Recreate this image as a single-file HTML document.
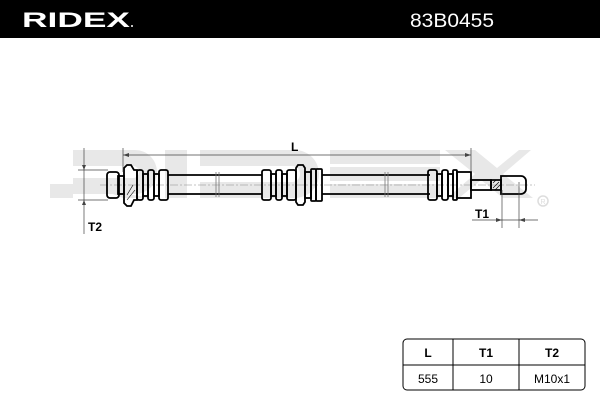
<!DOCTYPE html>
<html><head><style>
body{margin:0;width:600px;height:400px;background:#fff;overflow:hidden;font-family:"Liberation Sans",sans-serif}
</style></head><body>
<svg width="600" height="400" viewBox="0 0 600 400" xmlns="http://www.w3.org/2000/svg">
<rect x="0" y="0" width="600" height="38" fill="#000"/>
<text x="22" y="27" fill="#fff" font-size="21" font-weight="bold" font-family="Liberation Sans" textLength="108" lengthAdjust="spacingAndGlyphs">RIDEX</text>
<circle cx="132" cy="26" r="1" fill="#fff"/>
<text x="410" y="27" fill="#fff" font-size="19" font-family="Liberation Sans" textLength="84" lengthAdjust="spacingAndGlyphs">83B0455</text>
<g fill="#e8e8e8">
<path d="M50 150h85a22 22 0 0 1 0 44h-8l26 4h-30l-10-4h-40v-16h60a6 6 0 0 0 0-12h-60v-16z"/>
<path d="M50 198v-14h23v14z"/>
<rect x="165" y="150" width="22" height="48"/>
<path d="M200 150h95a24 24 0 0 1 0 48h-95v-16h92a8 8 0 0 0 0-16h-92z"/>
<rect x="330" y="150" width="110" height="14"/>
<rect x="330" y="167" width="110" height="14"/>
<rect x="330" y="184" width="110" height="14"/>
<path d="M445 150h30l22 18 22-18h12l-28 24 30 24h-30l-22-18-22 18h-12l28-24z"/>
</g>
<circle cx="543" cy="201" r="5" fill="none" stroke="#ddd" stroke-width="1.5"/>
<text x="540.5" y="204" font-size="7" fill="#ddd">R</text>
<line x1="100" y1="185" x2="535" y2="185" stroke="#888" stroke-width="0.6" stroke-dasharray="8 2 2 2"/>
<g stroke="#000" stroke-width="1.8" fill="none">
<line x1="168" y1="175" x2="262" y2="175"/><line x1="168" y1="194" x2="262" y2="194"/>
<line x1="322" y1="175" x2="430" y2="175"/><line x1="322" y1="194" x2="430" y2="194"/>
<rect x="107" y="172" width="12" height="26" rx="3"/>
<rect x="118" y="176" width="6" height="18"/>
<path d="M124 168l3-3h4l3 5h3v30h-3l-3 6h-4l-3-3z"/>
<rect x="137" y="170" width="6" height="30" rx="2"/>
<rect x="143" y="174" width="5" height="22"/>
<rect x="148" y="170" width="6" height="30" rx="2"/>
<rect x="154" y="174" width="5" height="22"/>
<rect x="159" y="170" width="9" height="30" rx="2"/>
<rect x="262" y="170" width="9" height="30" rx="2"/>
<rect x="271" y="174" width="5" height="22"/>
<rect x="276" y="170" width="6" height="30" rx="2"/>
<rect x="282" y="174" width="5" height="22"/>
<rect x="287" y="170" width="9" height="30" rx="2"/>
<path d="M296 168l2-3h5l2 3v34l-2 3h-5l-2-3z"/>
<rect x="305" y="172" width="6" height="26"/>
<rect x="311" y="169" width="5" height="32" rx="1"/>
<rect x="316" y="169" width="6" height="32" rx="1"/>
<rect x="428" y="170" width="9" height="30" rx="2"/>
<rect x="437" y="174" width="5" height="22"/>
<rect x="442" y="170" width="6" height="30" rx="2"/>
<rect x="448" y="174" width="5" height="22"/>
<rect x="453" y="170" width="4" height="30" rx="1"/>
<rect x="457" y="172" width="14" height="26"/>
<rect x="471" y="180" width="20" height="10"/>
<path d="M491 180h10v10h-10z"/>
<path d="M501 176h20a5 5 0 0 1 5 5v8a5 5 0 0 1-5 5h-20z"/>
</g>
<g stroke="#000" stroke-width="0.6">
<line x1="493" y1="183" x2="496" y2="180"/><line x1="493" y1="188" x2="499" y2="182"/><line x1="495" y1="190" x2="501" y2="184"/>
<line x1="127" y1="195" x2="133" y2="185"/><line x1="127" y1="200" x2="135" y2="190"/>
</g>
<g stroke="#777" stroke-width="0.8">
<line x1="216" y1="172" x2="216" y2="197"/><line x1="219" y1="172" x2="219" y2="197"/>
<line x1="385" y1="172" x2="385" y2="197"/><line x1="388" y1="172" x2="388" y2="197"/>
</g>
<g stroke="#444" stroke-width="0.7" fill="none">
<line x1="123" y1="148" x2="123" y2="172"/><line x1="471" y1="148" x2="471" y2="172"/>
<line x1="123" y1="155" x2="471" y2="155"/>
<line x1="84" y1="148" x2="84" y2="234"/>
<line x1="78" y1="170" x2="108" y2="170"/><line x1="78" y1="200" x2="108" y2="200"/>
<line x1="502" y1="190" x2="502" y2="228"/><line x1="519" y1="182" x2="519" y2="228"/>
<line x1="472" y1="220" x2="538" y2="220"/>
</g>
<g fill="#444">
<path d="M123 155l6-2v4z"/><path d="M471 155l-6-2v4z"/>
<path d="M84 170l-2-5h4z"/><path d="M84 200l-2 5h4z"/>
<path d="M502 220l-6-2v4z"/><path d="M519 220l6-2v4z"/>
</g>
<text x="291" y="151" font-size="12" font-weight="bold">L</text>
<text x="88" y="231" font-size="12" font-weight="bold">T2</text>
<text x="475" y="218" font-size="12" font-weight="bold">T1</text>
<rect x="403" y="339" width="182" height="51" rx="4" fill="none" stroke="#000" stroke-width="1"/>
<line x1="403" y1="365" x2="585" y2="365" stroke="#000"/>
<line x1="453" y1="339" x2="453" y2="390" stroke="#000"/>
<line x1="519" y1="339" x2="519" y2="390" stroke="#000"/>
<g font-size="12" text-anchor="middle">
<text x="428" y="357" font-weight="bold">L</text>
<text x="486" y="357" font-weight="bold">T1</text>
<text x="552" y="357" font-weight="bold">T2</text>
<text x="428" y="383">555</text>
<text x="486" y="383">10</text>
<text x="552" y="383">M10x1</text>
</g>
</svg>
</body></html>
